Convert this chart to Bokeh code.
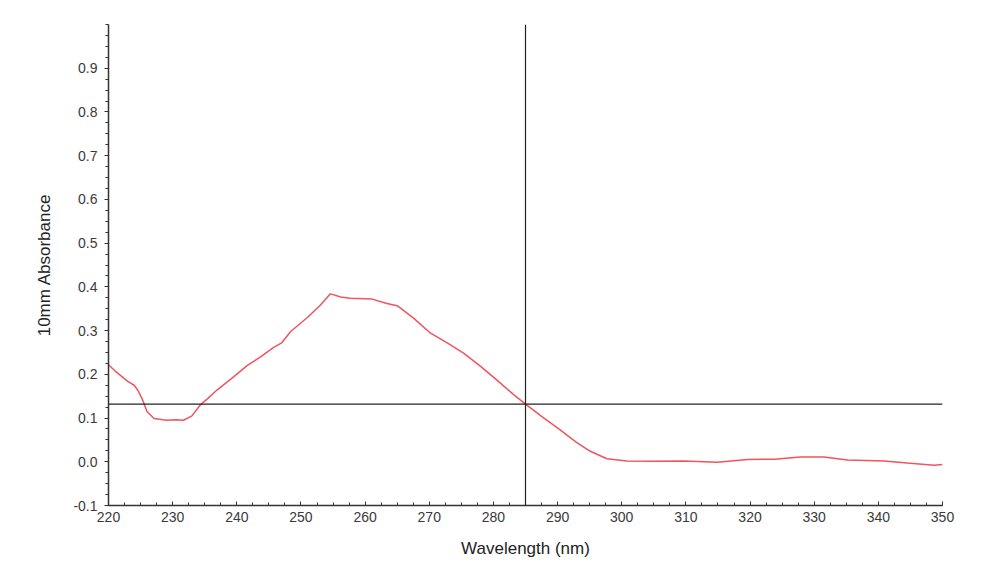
from bokeh.plotting import figure
from bokeh.models import Range1d, Span, FixedTicker, CustomJSTickFormatter
from bokeh.embed import file_html
from bokeh.resources import INLINE

wavelength = [220.0, 221.0, 222.0, 223.0, 224.0, 224.6, 225.3, 226.0, 227.1, 228.5, 229.1, 230.5, 231.7,
              233.0, 234.3, 235.5, 236.9, 239.5, 241.6, 243.7, 245.8, 247.0, 248.4, 251.0,
              253.0, 254.6, 256.2, 257.7, 261.1, 263.4, 265.0, 267.6, 270.2, 272.8, 275.4,
              278.0, 280.6, 283.2, 285.0, 287.3, 288.9, 290.4, 293.0, 295.1, 297.7, 300.8,
              304.5, 309.7, 314.9, 319.6, 323.8, 327.9, 331.5, 335.2, 340.9, 344.5, 348.7, 350.0]
absorbance = [0.222, 0.208, 0.196, 0.184, 0.175, 0.163, 0.142, 0.115, 0.099, 0.096, 0.095, 0.096, 0.095,
              0.105, 0.130, 0.145, 0.164, 0.194, 0.220, 0.240, 0.262, 0.272, 0.298, 0.330,
              0.358, 0.384, 0.377, 0.374, 0.372, 0.362, 0.357, 0.328, 0.294, 0.272, 0.248,
              0.218, 0.186, 0.153, 0.132, 0.106, 0.089, 0.073, 0.044, 0.024, 0.007, 0.002,
              0.001, 0.002, -0.001, 0.005, 0.006, 0.011, 0.011, 0.004, 0.002, -0.003, -0.008, -0.006]

cursor_x = 285.0
cursor_y = 0.132

x_ticks = list(range(220, 351, 10))
y_ticks = [-0.1, 0.0, 0.1, 0.2, 0.3, 0.4, 0.5, 0.6, 0.7, 0.8, 0.9]

p = figure(width=1000, height=586, output_backend="svg", toolbar_location=None,
           x_range=Range1d(220, 350), y_range=Range1d(-0.1, 1.0),
           min_border_left=108, min_border_right=58, min_border_top=24, min_border_bottom=81,
           x_axis_label="Wavelength (nm)", y_axis_label="10mm Absorbance")
p.outline_line_color = None
p.grid.visible = False
p.background_fill_color = "white"
p.border_fill_color = "white"

p.line(wavelength, absorbance, line_color="#f0545c", line_width=1.5)

p.add_layout(Span(location=cursor_x, dimension="height", line_color="#222222", line_width=1.2))
p.add_layout(Span(location=cursor_y, dimension="width", line_color="#222222", line_width=1.2))

for ax in (p.xaxis[0], p.yaxis[0]):
    ax.axis_line_color = "#333333"
    ax.axis_line_width = 1.5
    ax.major_tick_line_color = "#333333"
    ax.minor_tick_line_color = "#333333"
    ax.major_label_text_font = "Liberation Sans"
    ax.major_label_text_font_size = "14px"
    ax.major_label_text_color = "#3a3a3a"
    ax.axis_label_text_font = "Liberation Sans"
    ax.axis_label_text_font_size = "17px"
    ax.axis_label_text_font_style = "normal"
    ax.axis_label_text_color = "#222222"

xa = p.xaxis[0]
xa.ticker = FixedTicker(ticks=x_ticks, minor_ticks=[220 + 2.5 * i for i in range(53)])
xa.major_tick_in = 4
xa.major_tick_out = 0
xa.minor_tick_in = 3
xa.minor_tick_out = 0
xa.major_label_standoff = 6
xa.axis_label_standoff = 14

ya = p.yaxis[0]
ya.ticker = FixedTicker(ticks=y_ticks, minor_ticks=[round(-0.1 + 0.025 * i, 4) for i in range(45)])
ya.formatter = CustomJSTickFormatter(code="return tick.toFixed(1);")
ya.major_tick_in = 0
ya.major_tick_out = 4
ya.minor_tick_in = 0
ya.minor_tick_out = 3
ya.major_label_standoff = 7
ya.axis_label_standoff = 16

open("out.html", "w").write(file_html(p, INLINE))
